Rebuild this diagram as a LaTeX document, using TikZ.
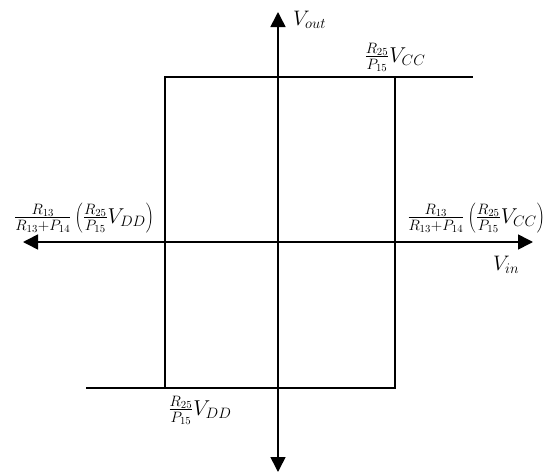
\RequirePackage{fix-cm}
\documentclass[tikz,border=0pt]{standalone}
\usetikzlibrary{arrows.meta}
\begin{document}
\begin{tikzpicture}[x=1pt,y=-1pt,
  axis/.style={line width=1.6pt,{Triangle[length=15pt,width=15pt]}-{Triangle[length=15pt,width=15pt]}},
  loop/.style={line width=1.2pt},
  lbl/.style={inner sep=0pt,anchor=base,font=\fontsize{21.5}{24}\selectfont},
  axl/.style={inner sep=0pt,anchor=base west,font=\fontsize{21}{24}\selectfont}]
\useasboundingbox (0,0) rectangle (555,474);
\coordinate (L) at (23,242);
\coordinate (R) at (533,242);
\coordinate (T) at (278,12);
\coordinate (B) at (278,472);
\coordinate (tl) at (165,77);
\coordinate (tr) at (473,77);
\coordinate (tc) at (395,77);
\coordinate (bl) at (86,388);
\coordinate (bc) at (165,388);
\coordinate (br) at (395,388);
\draw[axis] (L) -- (R);
\draw[axis] (B) -- (T);
\draw[loop] (tc) -- (tr);
\draw[loop] (bc) -- (tl) -- (tc) -- (br) -- (bl);
\node[axl] (vout) at (293,25) {$V_{out}$};
\node[axl] (vin) at (493,270) {$V_{in}$};
\node[lbl] (vcc) at (395,62) {$\frac{R_{25}}{P_{15}}V_{CC}$};
\node[lbl] (vdd) at (200,415) {$\frac{R_{25}}{P_{15}}V_{DD}$};
\node[lbl] (left) at (84,223) {$\frac{R_{13}}{R_{13}+P_{14}}\left(\frac{R_{25}}{P_{15}}V_{DD}\right)$};
\node[lbl] (right) at (476,223) {$\frac{R_{13}}{R_{13}+P_{14}}\left(\frac{R_{25}}{P_{15}}V_{CC}\right)$};
\end{tikzpicture}
\end{document}
